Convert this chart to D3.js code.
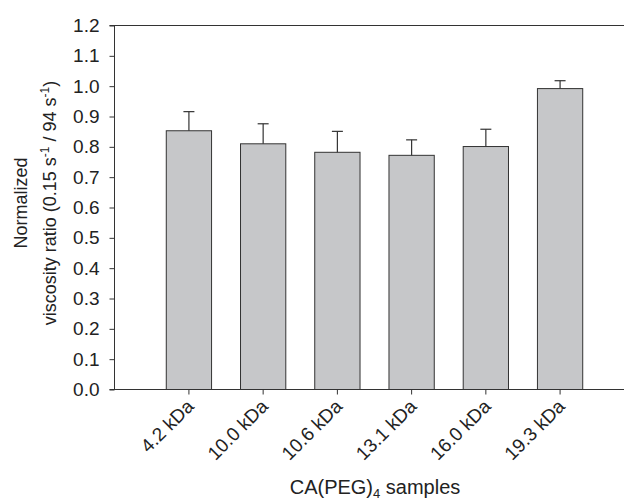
<!DOCTYPE html>
<html>
<head>
<meta charset="utf-8">
<script src="https://cdn.jsdelivr.net/npm/d3@7"></script>
<style>
  html, body { margin: 0; padding: 0; background: #fff; }
  svg { display: block; }
  text { font-family: "Liberation Sans", Arial, sans-serif; fill: #222; }
</style>
</head>
<body>
<svg id="chart" width="624" height="502"></svg>
<script>
const categories = ["4.2 kDa", "10.0 kDa", "10.6 kDa", "13.1 kDa", "16.0 kDa", "19.3 kDa"];
const values = [0.853, 0.810, 0.782, 0.772, 0.801, 0.992];
const errors = [0.063, 0.066, 0.069, 0.051, 0.057, 0.026];
const yTicks = [0.0, 0.1, 0.2, 0.3, 0.4, 0.5, 0.6, 0.7, 0.8, 0.9, 1.0, 1.1, 1.2];

const svg = d3.select("#chart");
const axisLeftX = 114.5, plotRight = 624;
const yTop = 25.5, yBottom = 389.5;

const y = d3.scaleLinear().domain([0, 1.2]).range([yBottom, yTop]);
const x = d3.scaleBand().domain(categories).range([151.8, 597.2]).paddingInner(0.39).paddingOuter(0.195);

const fontSize = 19;

// bars
svg.append("g").selectAll("rect").data(categories).join("rect")
  .attr("x", d => x(d))
  .attr("y", (d, i) => y(values[i]))
  .attr("width", x.bandwidth())
  .attr("height", (d, i) => y(0) - y(values[i]))
  .attr("fill", "#c6c7c9")
  .attr("stroke", "#333")
  .attr("stroke-width", 1);

// error bars
const eb = svg.append("g").attr("stroke", "#333").attr("stroke-width", 1.2);
categories.forEach((c, i) => {
  const cx = x(c) + x.bandwidth() / 2;
  eb.append("line").attr("x1", cx).attr("x2", cx).attr("y1", y(values[i])).attr("y2", y(values[i] + errors[i]));
  eb.append("line").attr("x1", cx - 5.5).attr("x2", cx + 5.5).attr("y1", y(values[i] + errors[i])).attr("y2", y(values[i] + errors[i]));
});

// y axis
const yAxis = d3.axisLeft(y).tickValues(yTicks).tickFormat(d3.format(".1f")).tickSize(5).tickPadding(10);
const gy = svg.append("g").attr("transform", `translate(${axisLeftX},0)`).call(yAxis);
gy.select(".domain").attr("stroke", "#333").attr("d", `M0,${yTop}V${yBottom}`);
gy.selectAll(".tick line").attr("stroke", "#333");
gy.selectAll(".tick text").attr("font-size", fontSize).attr("font-family", "Liberation Sans, Arial, sans-serif").attr("fill", "#222");

// top and bottom frame lines
svg.append("line").attr("x1", axisLeftX - 5).attr("x2", plotRight).attr("y1", yTop).attr("y2", yTop).attr("stroke", "#333");
svg.append("line").attr("x1", axisLeftX - 5).attr("x2", plotRight).attr("y1", yBottom).attr("y2", yBottom).attr("stroke", "#333");

// x axis ticks & labels
const xAxis = d3.axisBottom(x).tickSize(5).tickSizeOuter(0);
const gx = svg.append("g").attr("transform", `translate(0,${yBottom})`).call(xAxis);
gx.select(".domain").remove();
gx.selectAll(".tick line").attr("stroke", "#333");
gx.selectAll(".tick text")
  .attr("font-size", fontSize)
  .attr("font-family", "Liberation Sans, Arial, sans-serif")
  .attr("fill", "#222")
  .attr("text-anchor", "end")
  .attr("dy", null)
  .attr("y", 0)
  .attr("transform", "translate(6,18) rotate(-45)");

// y axis title
const yt = svg.append("text")
  .attr("transform", "translate(0,203) rotate(-90)")
  .attr("text-anchor", "middle")
  .attr("font-size", 18);
yt.append("tspan").attr("x", 0).attr("y", 27).text("Normalized");
const l2 = yt.append("tspan").attr("x", 0).attr("y", 56);
l2.append("tspan").text("viscosity ratio (0.15 s");
l2.append("tspan").attr("font-size", 12).attr("dy", -7).text("-1");
l2.append("tspan").attr("dy", 7).text(" / 94 s");
l2.append("tspan").attr("font-size", 12).attr("dy", -7).text("-1");
l2.append("tspan").attr("dy", 7).text(")");

// x axis title
const xt = svg.append("text")
  .attr("x", 375).attr("y", 494)
  .attr("text-anchor", "middle")
  .attr("font-size", 20);
xt.append("tspan").text("CA(PEG)");
xt.append("tspan").attr("font-size", 13).attr("dy", 4).text("4");
xt.append("tspan").attr("dy", -4).text(" samples");
</script>
</body>
</html>
